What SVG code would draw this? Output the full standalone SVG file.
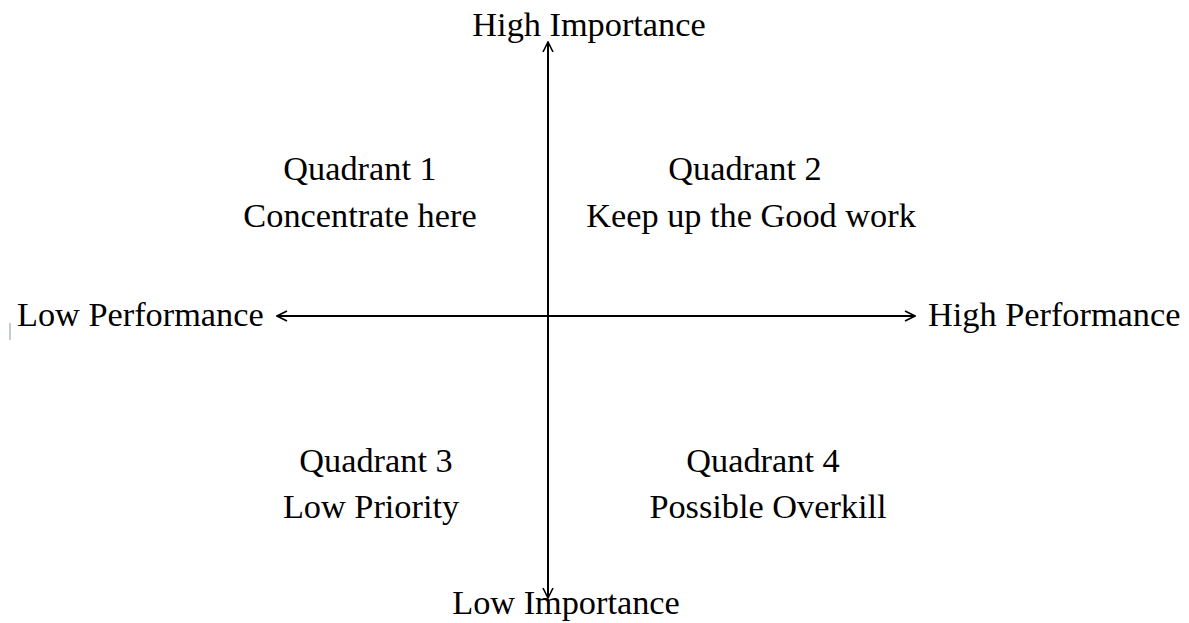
<svg xmlns="http://www.w3.org/2000/svg" width="1189" height="623" viewBox="0 0 1189 623">
<style>
text{font-family:"Liberation Serif","Times New Roman",serif;font-size:34.3px;fill:#000}
.c{text-anchor:middle}
.ax{stroke:#000;stroke-width:2;fill:none}
</style>
<defs>
<marker id="ah" viewBox="0 0 12 12" refX="11" refY="6" markerWidth="12" markerHeight="12" markerUnits="userSpaceOnUse" orient="auto-start-reverse">
<polyline points="1,1 11,6 1,11" fill="none" stroke="#000" stroke-width="1.6"/>
</marker>
</defs>
<rect width="1189" height="623" fill="#fff"/>
<g id="connectors">
<line class="ax" x1="548" y1="42" x2="548" y2="598" marker-start="url(#ah)" marker-end="url(#ah)"/>
<line class="ax" x1="277" y1="316" x2="915" y2="316" marker-start="url(#ah)" marker-end="url(#ah)"/>
</g>
<line x1="10" y1="323" x2="10" y2="340" stroke="#8899aa" stroke-width="1"/>
<g id="high-importance"><text class="c" x="589" y="36">High Importance</text></g>
<g id="low-importance"><text class="c" x="566" y="614">Low Importance</text></g>
<g id="low-performance"><text x="17" y="326">Low Performance</text></g>
<g id="high-performance"><text x="928" y="326">High Performance</text></g>
<g id="q1"><text class="c" x="360" y="180">Quadrant 1</text><text class="c" x="360" y="227">Concentrate here</text></g>
<g id="q2"><text class="c" x="745" y="180">Quadrant 2</text><text class="c" x="751" y="227">Keep up the Good work</text></g>
<g id="q3"><text class="c" x="376" y="472">Quadrant 3</text><text class="c" x="371" y="518">Low Priority</text></g>
<g id="q4"><text class="c" x="763" y="472">Quadrant 4</text><text class="c" x="768" y="518">Possible Overkill</text></g>
</svg>
